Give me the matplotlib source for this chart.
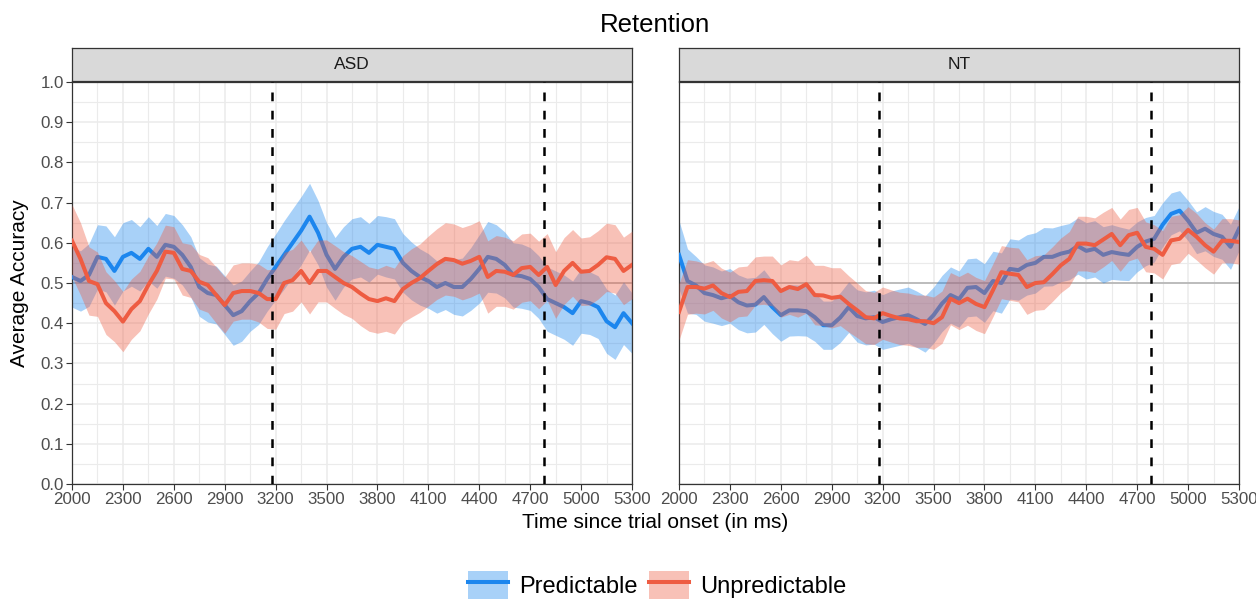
#! /usr/bin/env python3
# retention accuracy over time, ASD vs NT, predictable vs unpredictable

import numpy as np
import matplotlib
matplotlib.use('Agg')
import matplotlib.pyplot as plt
from matplotlib.patches import Patch
from matplotlib.lines import Line2D

plt.rcParams['font.family'] = ['Liberation Sans', 'DejaVu Sans']

# input
#
time_ms = np.arange(2000, 5301, 50)

asd_pred = [
  0.515, 0.505, 0.52, 0.565, 0.56, 0.53, 0.565, 0.575, 0.56, 0.585,
  0.565, 0.595, 0.59, 0.57, 0.54, 0.49, 0.475, 0.47, 0.445, 0.42,
  0.43, 0.455, 0.475, 0.51, 0.54, 0.57, 0.6, 0.63, 0.665, 0.625,
  0.57, 0.535, 0.565, 0.585, 0.59, 0.575, 0.595, 0.59, 0.585, 0.55,
  0.53, 0.515, 0.505, 0.49, 0.5, 0.49, 0.49, 0.51, 0.535, 0.565,
  0.56, 0.545, 0.52, 0.517, 0.51, 0.49, 0.46, 0.45, 0.44, 0.425,
  0.455, 0.45, 0.44, 0.405, 0.39, 0.425, 0.40,
]
asd_pred_se = [
  0.075, 0.075, 0.078,
  0.08, 0.082, 0.085, 0.085, 0.083, 0.08, 0.08, 0.078, 0.078, 0.078,
  0.075, 0.075, 0.073, 0.072, 0.072, 0.073, 0.075, 0.075,
  0.075, 0.078, 0.08, 0.082, 0.085, 0.085, 0.085, 0.083, 0.08, 0.08,
  0.078, 0.075, 0.075, 0.075, 0.073, 0.073, 0.075, 0.075, 0.073, 0.072,
  0.07, 0.068, 0.065, 0.066, 0.068, 0.072, 0.078, 0.085, 0.088, 0.085,
  0.082, 0.08, 0.08, 0.078, 0.078, 0.08, 0.08, 0.08, 0.08, 0.08,
  0.078, 0.078, 0.08, 0.08, 0.078, 0.075,
]
asd_unpred = [
  0.605, 0.56, 0.505, 0.497, 0.45, 0.43, 0.404, 0.435, 0.455, 0.495,
  0.53, 0.578, 0.575, 0.535, 0.53, 0.503, 0.495, 0.47, 0.445, 0.475,
  0.48, 0.48, 0.475, 0.46, 0.46, 0.5, 0.507, 0.53, 0.5, 0.53,
  0.53, 0.515, 0.5, 0.49, 0.474, 0.46, 0.455, 0.462, 0.455, 0.485,
  0.5, 0.512, 0.53, 0.547, 0.56, 0.557, 0.548, 0.555, 0.565, 0.515,
  0.53, 0.528, 0.52, 0.537, 0.54, 0.52, 0.54, 0.495, 0.53, 0.55,
  0.528, 0.53, 0.545, 0.564, 0.56, 0.53, 0.545,
]
asd_unpred_se = [
  0.09, 0.09, 0.085,
  0.08, 0.078, 0.076, 0.075, 0.075, 0.074, 0.072, 0.07,
  0.066, 0.065, 0.065, 0.066,
  0.068, 0.068, 0.07, 0.07, 0.07, 0.07, 0.07, 0.072,
  0.073, 0.075, 0.076, 0.077, 0.077, 0.077, 0.077, 0.077, 0.078, 0.078,
  0.078, 0.08, 0.08, 0.08, 0.082, 0.082, 0.083, 0.085, 0.085, 0.087,
  0.088, 0.09, 0.09, 0.09, 0.09, 0.09, 0.09, 0.088,
  0.086, 0.085, 0.085, 0.084, 0.084, 0.083, 0.083, 0.083, 0.083, 0.084,
  0.085, 0.085, 0.085, 0.085, 0.084, 0.084,
]
nt_pred = [
  0.57, 0.505, 0.494, 0.475, 0.47, 0.462, 0.468, 0.452, 0.444, 0.446,
  0.465, 0.44, 0.42, 0.432, 0.432, 0.43, 0.415, 0.395, 0.395, 0.414,
  0.44, 0.418, 0.412, 0.415, 0.403, 0.41, 0.415, 0.42, 0.41, 0.398,
  0.42, 0.449, 0.47, 0.46, 0.488, 0.49, 0.475, 0.505, 0.5, 0.535,
  0.532, 0.545, 0.55, 0.565, 0.565, 0.573, 0.578, 0.592, 0.58, 0.585,
  0.57, 0.577, 0.573, 0.57, 0.59, 0.603, 0.61, 0.645, 0.672, 0.68,
  0.655, 0.625, 0.635, 0.622, 0.615, 0.59, 0.635,
]
nt_pred_se = [
  0.085, 0.08,
  0.072, 0.07, 0.07, 0.068, 0.068, 0.068, 0.068, 0.068, 0.068,
  0.066, 0.065, 0.064, 0.063, 0.062, 0.06, 0.06, 0.06, 0.062, 0.063,
  0.065, 0.066, 0.067, 0.068, 0.07, 0.07, 0.07, 0.07, 0.07, 0.07,
  0.07, 0.07, 0.07, 0.072, 0.072, 0.073, 0.074, 0.075, 0.075, 0.075,
  0.075, 0.075, 0.073, 0.072, 0.07, 0.07, 0.07, 0.07, 0.07, 0.07,
  0.068, 0.066, 0.064, 0.062, 0.06, 0.058, 0.055, 0.052, 0.05, 0.05,
  0.052, 0.055, 0.056, 0.056, 0.056, 0.055,
]
nt_unpred = [
  0.428, 0.49, 0.49, 0.486, 0.494, 0.475, 0.465, 0.478, 0.48, 0.505,
  0.507, 0.505, 0.48, 0.49, 0.485, 0.497, 0.47, 0.469, 0.463, 0.466,
  0.448, 0.432, 0.415, 0.412, 0.425, 0.418, 0.412, 0.41, 0.405, 0.405,
  0.4, 0.415, 0.461, 0.45, 0.461, 0.448, 0.44, 0.482, 0.527, 0.523,
  0.52, 0.49, 0.5, 0.502, 0.522, 0.544, 0.56, 0.598, 0.598, 0.594,
  0.608, 0.622, 0.594, 0.619, 0.625, 0.59, 0.585, 0.57, 0.606, 0.61,
  0.632, 0.615, 0.594, 0.578, 0.605, 0.605, 0.602,
]
nt_unpred_se = [
  0.07, 0.068, 0.065, 0.063, 0.062, 0.062, 0.062, 0.062, 0.062, 0.06, 0.06,
  0.062, 0.065, 0.068, 0.07, 0.072, 0.074, 0.075, 0.075, 0.072, 0.07,
  0.068, 0.066, 0.065, 0.065, 0.065, 0.065, 0.065, 0.065, 0.065, 0.065,
  0.065, 0.065, 0.066, 0.066, 0.066, 0.066, 0.066, 0.066, 0.066, 0.067,
  0.068, 0.068, 0.068, 0.068, 0.068, 0.068, 0.068, 0.068, 0.068, 0.068,
  0.066, 0.065, 0.064, 0.063, 0.062, 0.06, 0.06, 0.06, 0.06, 0.058,
  0.058, 0.056, 0.056, 0.055, 0.055, 0.055,
]

groups = ['ASD', 'NT']
conditions = ['Predictable', 'Unpredictable']
phase_marks = [3178, 4780]
x_breaks = np.arange(2000, 5301, 300)
y_breaks = np.arange(0, 1.01, 0.1)

blue = '#1C86EE'
red = '#EE5C42'
fill_alpha = 0.38

def panel(ax, strip_ax, name, pred, pred_se, unpred, unpred_se, show_y):
  # background grid
  #
  ax.set_xlim(2000, 5300)
  ax.set_ylim(0, 1)
  ax.set_xticks(x_breaks)
  ax.set_xticks(x_breaks[:-1] + 150, minor = True)
  ax.set_yticks(y_breaks)
  ax.set_yticks(y_breaks[:-1] + 0.05, minor = True)
  ax.set_yticklabels([f'{v:.1f}' for v in y_breaks])
  ax.grid(which = 'major', color = '#EBEBEB', linewidth = 1.1)
  ax.grid(which = 'minor', color = '#EBEBEB', linewidth = 0.8)
  ax.set_axisbelow(True)
  ax.tick_params(which = 'minor', length = 0)
  ax.tick_params(which = 'major', length = 4, width = 0.8, color = '#333333',
                 labelsize = 12.2, labelcolor = '#4D4D4D', pad = 2)
  if not show_y:
    ax.tick_params(axis = 'y', which = 'both', left = False, labelleft = False)
  for s in ax.spines.values():
    s.set_color('#333333')
    s.set_linewidth(0.9)

  ax.axhline(0.5, color = '#B8B8B8', linewidth = 1.3, zorder = 1)

  # ribbons and means
  #
  pred = np.array(pred)
  pred_se = np.array(pred_se)
  unpred = np.array(unpred)
  unpred_se = np.array(unpred_se)
  ax.fill_between(time_ms, pred - pred_se, pred + pred_se,
                  color = blue, alpha = fill_alpha, linewidth = 0, zorder = 2)
  ax.plot(time_ms, pred, color = blue, linewidth = 2.9, zorder = 3)
  ax.fill_between(time_ms, unpred - unpred_se, unpred + unpred_se,
                  color = red, alpha = fill_alpha, linewidth = 0, zorder = 4)
  ax.plot(time_ms, unpred, color = red, linewidth = 2.9, zorder = 5)

  for t in phase_marks:
    ax.axvline(t, color = 'black', linewidth = 1.8,
               linestyle = (0, (3.5, 3.8)), zorder = 6)

  # facet strip
  #
  strip_ax.set_xticks([])
  strip_ax.set_yticks([])
  strip_ax.set_facecolor('#D9D9D9')
  for s in strip_ax.spines.values():
    s.set_color('#333333')
    s.set_linewidth(0.9)
  strip_ax.text(0.5, 0.5, name, ha = 'center', va = 'center',
                fontsize = 12.5, color = '#1A1A1A', transform = strip_ax.transAxes)

def main():
  fig = plt.figure(figsize = (12.56, 6.0), dpi = 100)

  # plot
  #
  lefts = [72 / 1256, 679 / 1256]
  width = 560 / 1256
  data = [
    (asd_pred, asd_pred_se, asd_unpred, asd_unpred_se),
    (nt_pred, nt_pred_se, nt_unpred, nt_unpred_se),
  ]
  for i, name in enumerate(groups):
    ax = fig.add_axes([lefts[i], 116 / 600, width, 402 / 600])
    strip_ax = fig.add_axes([lefts[i], 519 / 600, width, 33 / 600])
    panel(ax, strip_ax, name, *data[i], show_y = (i == 0))

  fig.text(655 / 1256, 568 / 600, 'Retention', ha = 'center', va = 'baseline',
           fontsize = 18.5, color = 'black')
  fig.text(655 / 1256, 77 / 600, 'Time since trial onset (in ms)',
           ha = 'center', va = 'center', fontsize = 15, color = 'black')
  fig.text(20 / 1256, 317 / 600, 'Average Accuracy', rotation = 90,
           ha = 'center', va = 'center', fontsize = 15, color = 'black')

  # legend
  #
  handles = [
    (Patch(facecolor = blue, alpha = fill_alpha, linewidth = 0),
     Line2D([], [], color = blue, linewidth = 2.9)),
    (Patch(facecolor = red, alpha = fill_alpha, linewidth = 0),
     Line2D([], [], color = red, linewidth = 2.9)),
  ]
  fig.legend(handles, conditions, loc = 'center', ncol = 2,
             bbox_to_anchor = (657 / 1256, 15 / 600), frameon = False,
             fontsize = 17, handlelength = 1.7, handleheight = 1.4,
             handletextpad = 0.45, columnspacing = 0.5)

  # output
  #
  plt.savefig('out.png', dpi = 100)

if __name__ == '__main__':
  main()
